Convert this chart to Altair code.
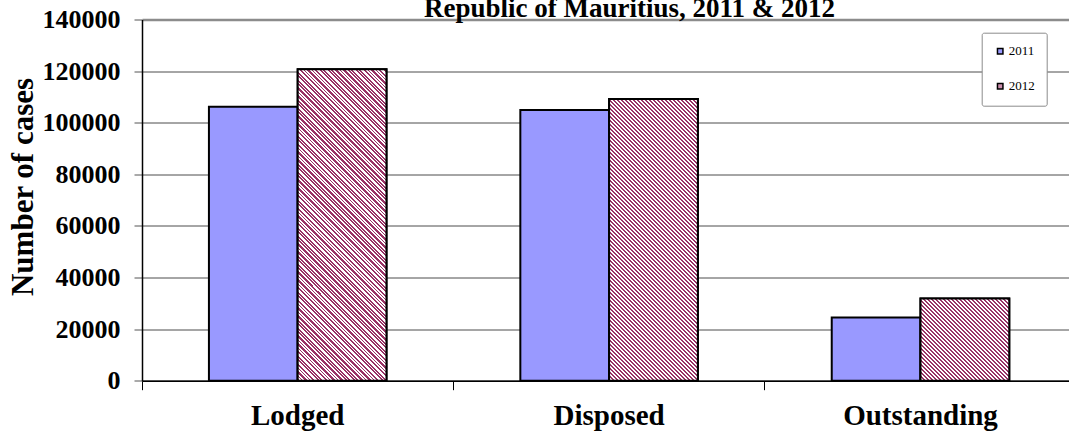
import altair as alt
import pandas as pd

# ---- data ----
categories = ["Lodged", "Disposed", "Outstanding"]
years = ["2011", "2012"]
cases_2011 = [106200, 104900, 24500]
cases_2012 = [120700, 109200, 31900]
y_ticks = [0, 20000, 40000, 60000, 80000, 100000, 120000, 140000]
title_text = "Republic of Mauritius, 2011 & 2012"
y_title = "Number of cases"

rows = []
for c, v in zip(categories, cases_2011):
    rows.append({"category": c, "year": "2011", "cases": v})
for c, v in zip(categories, cases_2012):
    rows.append({"category": c, "year": "2012", "cases": v})
df = pd.DataFrame(rows)

# ---- layout / style ----
FONT = "Liberation Serif"
BLUE = "#9999FF"
MAROON = "#993366"
PLOT_W = 927
BAND_RANGE = 934.2
PLOT_H = 361.2
Y_MAX = 140000
OUTER = 0.754

band = BAND_RANGE / len(categories)
bar_w = band / (len(years) + 2 * OUTER)


def hatch(value, period=4.0, frac=0.5):
    """Diagonal '\\' stripes as a many-stop linear gradient for one bar."""
    h = value / Y_MAX * PLOT_H
    w = bar_w
    L = w + h
    k = L / (w * w + h * h)
    dt = period / L
    stops = []
    i = 0
    while i * dt < 1:
        a = round(i * dt, 5)
        b = round(min(i * dt + dt * frac, 1), 5)
        c = round(min(i * dt + dt, 1), 5)
        stops += [
            alt.GradientStop(offset=a, color=MAROON),
            alt.GradientStop(offset=b, color=MAROON),
            alt.GradientStop(offset=b, color="white"),
            alt.GradientStop(offset=c, color="white"),
        ]
        i += 1
    return alt.LinearGradient(
        gradient="linear", stops=stops,
        x1=0, y1=1, x2=round(k * w, 6), y2=round(1 - k * h, 6),
    )


x_enc = alt.X(
    "category:N", sort=categories,
    scale=alt.Scale(range=[0, BAND_RANGE], paddingInner=0, paddingOuter=0),
    axis=alt.Axis(
        title=None, labelAngle=0, bandPosition=0,
        labelFont=FONT, labelFontSize=29, labelFontWeight="bold", labelColor="black",
        labelBaseline="alphabetic", labelPadding=35,
        tickSize=9, tickColor="black", tickWidth=1,
        domainColor="black", domainWidth=1.5, grid=False,
    ),
)
xoff_enc = alt.XOffset(
    "year:N", sort=years,
    scale=alt.Scale(paddingInner=0, paddingOuter=OUTER),
)
y_enc = alt.Y(
    "cases:Q",
    scale=alt.Scale(domain=[0, Y_MAX], nice=False),
    axis=alt.Axis(
        values=y_ticks, format="d", title=y_title,
        labelFont=FONT, labelFontSize=26, labelFontWeight="bold", labelColor="black",
        labelPadding=14,
        tickSize=8, tickColor="#555555", tickWidth=1,
        domainColor="black", domainWidth=1.5,
        grid=True,
        gridColor={"condition": {"test": "datum.value === 140000", "value": "#8c8c8c"}, "value": "#4d4d4d"},
        gridWidth={"condition": {"test": "datum.value === 140000", "value": 2.5}, "value": 1},
        titleFont=FONT, titleFontSize=31, titleFontWeight="bold", titleColor="black",
        titleAngle=-90, titleBaseline="alphabetic", titleAlign="center",
        titleX=-110, titleY=167,
    ),
)

base = alt.Chart(df).mark_bar(stroke="black", strokeWidth=2).encode(
    x=x_enc, xOffset=xoff_enc, y=y_enc,
    color=alt.Color(
        "year:N", title=None,
        scale=alt.Scale(domain=years, range=[BLUE, "#cc8fae"]),
        legend=alt.Legend(
            orient="none", legendX=839.7, legendY=13.2,
            direction="vertical",
            fillColor="white", strokeColor="#8c8c8c", cornerRadius=2,
            padding=12, rowPadding=21,
            symbolType="square", symbolSize=30,
            symbolStrokeColor="black", symbolStrokeWidth=1.5,
            labelFont=FONT, labelFontSize=13, labelColor="black", labelOffset=2,
        ),
    ),
)

layers = [base]
for cat, val in zip(categories, cases_2012):
    layers.append(
        alt.Chart(df)
        .transform_filter((alt.datum.year == "2012") & (alt.datum.category == cat))
        .mark_bar(fill=hatch(val), stroke="black", strokeWidth=2)
        .encode(x=x_enc, xOffset=xoff_enc, y=y_enc)
    )

# chart title, partly cut off by the top edge as in the reference
title_layer = (
    alt.Chart(pd.DataFrame({"t": [title_text]}))
    .mark_text(font=FONT, fontSize=27, fontWeight="bold", color="black",
               align="center", baseline="alphabetic")
    .encode(x=alt.value(487.5), y=alt.value(-3), text="t:N")
)
layers.append(title_layer)

chart = (
    alt.layer(*layers)
    .properties(
        width=PLOT_W, height=PLOT_H,
        autosize=alt.AutoSizeParams(type="none"),
        padding={"left": 142, "top": 19.5, "right": 0, "bottom": 53.3},
    )
    .configure_view(stroke="transparent")
    .configure(background="white")
)

chart.save("out.html", embed_options={"renderer": "svg", "actions": False})
